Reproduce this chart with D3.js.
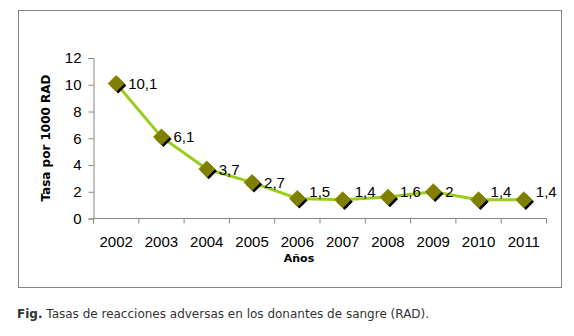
<!DOCTYPE html>
<html>
<head>
<meta charset="utf-8">
<script src="https://cdn.jsdelivr.net/npm/d3@7"></script>
<style>
  body { margin: 0; background: #fff; }
  svg { display: block; }
</style>
</head>
<body>
<div id="chart"></div>
<script>
const years = ["2002","2003","2004","2005","2006","2007","2008","2009","2010","2011"];
const rates = [10.1, 6.1, 3.7, 2.7, 1.5, 1.4, 1.6, 2, 1.4, 1.4];
const yTicks = [0, 2, 4, 6, 8, 10, 12];

const W = 574, H = 336;
const plot = { left: 93.5, right: 546.5, top: 58, bottom: 218.5 };

const svg = d3.select("#chart").append("svg")
  .attr("width", W).attr("height", H);

// outer frame
svg.append("rect")
  .attr("x", 18.5).attr("y", 10.5)
  .attr("width", 543).attr("height", 277)
  .attr("fill", "#fff").attr("stroke", "#858585").attr("stroke-width", 1);

const x = d3.scaleBand().domain(years).range([plot.left, plot.right]);
const y = d3.scaleLinear().domain([0, 12]).range([plot.bottom, plot.top]);

// y axis
const yAxis = svg.append("g")
  .attr("transform", `translate(${plot.left},0)`)
  .call(d3.axisLeft(y).tickValues(yTicks).tickSize(5).tickPadding(7).tickFormat(d3.format("d")));
yAxis.select(".domain").attr("stroke", "#868686");
yAxis.selectAll(".tick line").attr("stroke", "#868686");
yAxis.selectAll("text")
  .attr("font-family", "Liberation Sans, Arial, sans-serif")
  .attr("font-size", 15).attr("fill", "#000");

// x axis: ticks sit on the band boundaries
const xAxis = svg.append("g")
  .attr("transform", `translate(0,${plot.bottom})`);
xAxis.append("line")
  .attr("x1", plot.left).attr("x2", plot.right)
  .attr("stroke", "#868686");
const bounds = years.map(d => x(d)).concat([x(years[years.length - 1]) + x.bandwidth()]);
xAxis.selectAll(".tk").data(bounds).join("line")
  .attr("class", "tk")
  .attr("x1", d => d).attr("x2", d => d)
  .attr("y1", 0).attr("y2", 5)
  .attr("stroke", "#868686");
xAxis.selectAll("text").data(years).join("text")
  .attr("x", d => x(d) + x.bandwidth() / 2)
  .attr("y", 28)
  .attr("text-anchor", "middle")
  .attr("font-family", "Liberation Sans, Arial, sans-serif")
  .attr("font-size", 15).attr("fill", "#000")
  .text(d => d);

// axis titles
svg.append("text")
  .attr("x", 299).attr("y", 262)
  .attr("text-anchor", "middle")
  .attr("font-family", "DejaVu Sans, Verdana, sans-serif")
  .attr("font-weight", "bold").attr("font-size", 11)
  .text("Años");
svg.append("text")
  .attr("transform", "translate(50,138) rotate(-90)")
  .attr("text-anchor", "middle")
  .attr("font-family", "DejaVu Sans, Verdana, sans-serif")
  .attr("font-weight", "bold").attr("font-size", 12)
  .text("Tasa por 1000 RAD");

const cx = d => x(d) + x.bandwidth() / 2;
const pts = years.map((d, i) => ({ year: d, v: rates[i] }));

// line
svg.append("path")
  .datum(pts)
  .attr("fill", "none")
  .attr("stroke", "#9acd1e")
  .attr("stroke-width", 3)
  .attr("d", d3.line().x(d => cx(d.year)).y(d => y(d.v)));

// markers with a dark drop shadow
const diamond = d3.symbol().type(d3.symbolDiamond2).size(170);
const mk = svg.append("g");
mk.selectAll(".shadow").data(pts).join("path")
  .attr("class", "shadow")
  .attr("transform", d => `translate(${cx(d.year) + 2},${y(d.v) + 2})`)
  .attr("d", diamond)
  .attr("fill", "#000");
mk.selectAll(".dot").data(pts).join("path")
  .attr("class", "dot")
  .attr("transform", d => `translate(${cx(d.year)},${y(d.v)})`)
  .attr("d", diamond)
  .attr("fill", "#7f7f00")
  .attr("stroke", "#9a9a10").attr("stroke-width", 0.5);

// data labels (low values get lifted clear of the line, like the original)
const fmt = v => String(v).replace(".", ",");
svg.selectAll(".lbl").data(pts).join("text")
  .attr("class", "lbl")
  .attr("x", d => cx(d.year) + 12)
  .attr("y", d => Math.min(y(d.v), plot.bottom - 27.5) + 5.5)
  .attr("font-family", "Liberation Sans, Arial, sans-serif")
  .attr("font-size", 15).attr("fill", "#000")
  .text(d => fmt(d.v));

// caption
const cap = svg.append("text")
  .attr("x", 17).attr("y", 318)
  .attr("font-family", "DejaVu Sans, Verdana, sans-serif")
  .attr("font-size", 12).attr("fill", "#333");
cap.append("tspan").attr("font-weight", "bold").text("Fig.");
cap.append("tspan").text(" Tasas de reacciones adversas en los donantes de sangre (RAD).");
</script>
</body>
</html>
